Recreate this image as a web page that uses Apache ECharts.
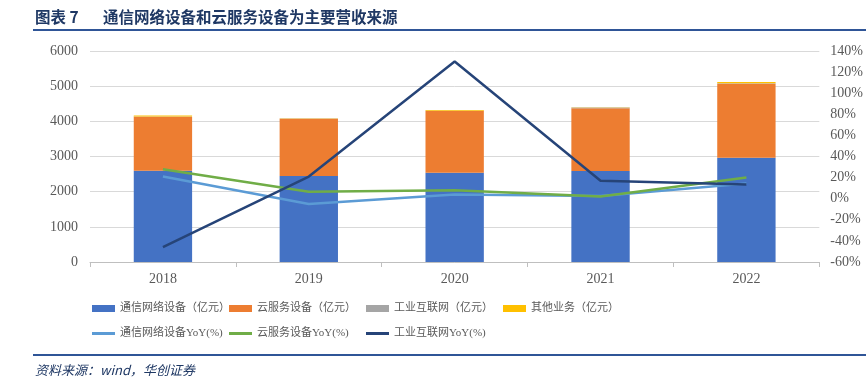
<!DOCTYPE html>
<html>
<head>
<meta charset="utf-8">
<script src="https://cdn.jsdelivr.net/npm/echarts@6/dist/echarts.min.js"></script>
<style>html,body{margin:0;padding:0;background:#fff;}#c{width:866px;height:382px;}</style>
</head>
<body>
<div id="c"></div>
<script>
const categories = ['2018', '2019', '2020', '2021', '2022'];
const commEquip = [2596, 2445, 2540, 2587, 2966];
const cloudEquip = [1535, 1630, 1753, 1783, 2104];
const industrialNet = [5, 5, 10, 20, 10];
const otherBiz = [30, 8, 20, 10, 40];
const commYoY = [21, -5, 4, 2.5, 14.5];
const cloudYoY = [28, 6.5, 8, 2, 20];
const industrialYoY = [-46, 21, 130, 17, 13.5];

const names = ['通信网络设备（亿元）', '云服务设备（亿元）', '工业互联网（亿元）', '其他业务（亿元）',
  '通信网络设备YoY(%)', '云服务设备YoY(%)', '工业互联网YoY(%)'];
const colors = ['#4472C4', '#ED7D31', '#A5A5A5', '#FFC000', '#5B9BD5', '#70AD47', '#264478'];
const FONT = '"Liberation Serif", "Noto Sans CJK SC", serif';

const chart = echarts.init(document.getElementById('c'), null, {renderer: 'canvas'});

const legendPos = [[92, 303], [229, 303], [366, 303], [503, 303], [92, 328], [229, 328], [366, 328]];
const legends = names.map((n, i) => ({
  data: [n],
  left: legendPos[i][0],
  top: legendPos[i][1],
  icon: 'rect',
  itemWidth: 23,
  itemHeight: i < 4 ? 7 : 3,
  padding: 0,
  textStyle: {color: '#595959', fontSize: 11, fontFamily: FONT}
}));

const barSeries = [commEquip, cloudEquip, industrialNet, otherBiz].map((d, i) => ({
  name: names[i], type: 'bar', stack: 'rev', data: d, barWidth: '40%',
  itemStyle: {color: colors[i]}, yAxisIndex: 0
}));
const lineSeries = [commYoY, cloudYoY, industrialYoY].map((d, i) => ({
  name: names[i + 4], type: 'line', data: d, yAxisIndex: 1, symbol: 'none',
  lineStyle: {color: colors[i + 4], width: 2.5}, itemStyle: {color: colors[i + 4]}
}));

chart.setOption({
  animation: false,
  color: colors,
  grid: {left: 90, right: 44, top: 51, bottom: 120},
  legend: legends,
  xAxis: {
    type: 'category', data: categories,
    axisLine: {lineStyle: {color: '#BFBFBF'}},
    axisTick: {show: true, length: 5, lineStyle: {color: '#BFBFBF'}},
    axisLabel: {color: '#595959', fontSize: 14, fontFamily: FONT, margin: 10}
  },
  yAxis: [{
    type: 'value', min: 0, max: 6000, interval: 1000,
    axisLine: {show: false}, axisTick: {show: false},
    splitLine: {lineStyle: {color: '#D9D9D9'}},
    axisLabel: {color: '#595959', fontSize: 14, fontFamily: FONT, margin: 12, formatter: (v) => String(v)}
  }, {
    type: 'value', min: -60, max: 140, interval: 20, position: 'right',
    axisLine: {show: false}, axisTick: {show: false}, splitLine: {show: false},
    axisLabel: {color: '#595959', fontSize: 14, fontFamily: FONT, margin: 11, formatter: '{value}%'}
  }],
  series: barSeries.concat(lineSeries),
  graphic: [
    {type: 'text', left: 35, top: 9, style: {text: '图表 7', fill: '#1F3864', font: 'bold 15.5px "Noto Sans CJK SC"'}},
    {type: 'text', left: 103, top: 9, style: {text: '通信网络设备和云服务设备为主要营收来源', fill: '#1F3864', font: 'bold 15.5px "Noto Sans CJK SC"'}},
    {type: 'rect', shape: {x: 33, y: 29, width: 833, height: 2}, style: {fill: '#2F5597'}},
    {type: 'rect', shape: {x: 33, y: 354, width: 833, height: 2}, style: {fill: '#2F5597'}},
    {type: 'text', left: 35, top: 364, style: {text: '资料来源：wind，华创证券', fill: '#1F3864', font: 'italic 13px "Noto Sans CJK SC"'}}
  ]
});
</script>
</body>
</html>
